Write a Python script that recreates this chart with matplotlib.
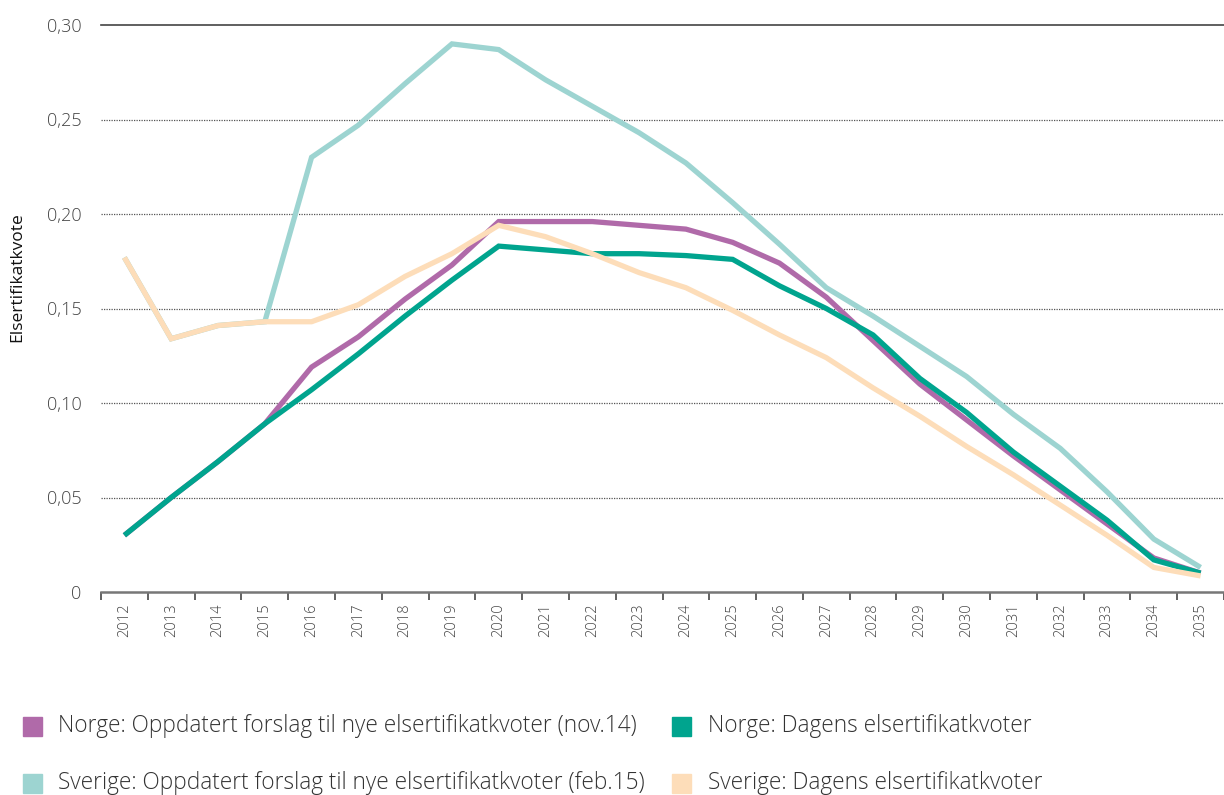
import matplotlib
matplotlib.use("Agg")
import matplotlib.pyplot as plt
from matplotlib.patches import Rectangle

plt.rcParams['font.family'] = ['Open Sans', 'DejaVu Sans']

years = [str(y) for y in range(2012, 2036)]

norge_forslag = [0.030, 0.050, 0.069, 0.089, 0.119, 0.135, 0.155, 0.173, 0.196, 0.196,
                 0.196, 0.194, 0.192, 0.185, 0.174, 0.156, 0.133, 0.110, 0.091, 0.072,
                 0.054, 0.036, 0.018, 0.010]
norge_dagens = [0.030, 0.050, 0.069, 0.089, 0.107, 0.126, 0.146, 0.165, 0.183, 0.181,
                0.179, 0.179, 0.178, 0.176, 0.162, 0.150, 0.136, 0.113, 0.095, 0.074,
                0.056, 0.038, 0.017, 0.010]
sverige_forslag = [0.177, 0.134, 0.141, 0.143, 0.230, 0.247, 0.269, 0.290, 0.287, 0.271,
                   0.257, 0.243, 0.227, 0.206, 0.184, 0.161, 0.146, 0.130, 0.114, 0.094,
                   0.076, 0.053, 0.028, 0.013]
sverige_dagens = [0.177, 0.134, 0.141, 0.143, 0.143, 0.152, 0.167, 0.179, 0.194, 0.188,
                  0.179, 0.169, 0.161, 0.149, 0.136, 0.124, 0.108, 0.093, 0.077, 0.062,
                  0.046, 0.030, 0.013, 0.0085]

labels = ["Norge: Oppdatert forslag til nye elsertifikatkvoter (nov.14)",
          "Norge: Dagens elsertifikatkvoter",
          "Sverige: Oppdatert forslag til nye elsertifikatkvoter (feb.15)",
          "Sverige: Dagens elsertifikatkvoter"]
colors = ["#B06AA9", "#00A48E", "#9DD4D1", "#FDDDB9"]
series = [norge_forslag, norge_dagens, sverige_forslag, sverige_dagens]

yticks = [0, 0.05, 0.10, 0.15, 0.20, 0.25, 0.30]
ytick_labels = ["0", "0,05", "0,10", "0,15", "0,20", "0,25", "0,30"]

W, H = 1224, 795
fig = plt.figure(figsize=(W / 100, H / 100), dpi=100)
ax = fig.add_axes([101 / W, 1 - 592 / H, (1224 - 101) / W, (592 - 25) / H])

x = list(range(len(years)))
for s, c in zip(series, colors):
    ax.plot(x, s, color=c, lw=3.8, solid_capstyle='butt', solid_joinstyle='miter', zorder=3)

ax.set_xlim(-0.5, 23.48)
ax.set_ylim(0, 0.30)

for v in yticks[1:-1]:
    ax.axhline(v, color="#555555", lw=0.9, ls=(0, (1, 1)), zorder=1)
ax.axhline(0.30, color="#444444", lw=1.2, zorder=1, clip_on=False)

for sp in ["left", "right", "top"]:
    ax.spines[sp].set_visible(False)
ax.spines["bottom"].set_color("#777777")
ax.spines["bottom"].set_linewidth(1.8)
ax.spines["bottom"].set_zorder(4)

ax.set_yticks(yticks)
ax.set_yticklabels(ytick_labels, fontweight='light')
ax.tick_params(axis='y', length=0, pad=14, labelsize=13, labelcolor="#444444")

ax.set_xticks(x)
ax.set_xticklabels(years, rotation=90, fontweight='light')
ax.tick_params(axis='x', which='major', length=0, pad=8, labelsize=10.5, labelcolor="#444444")
ax.set_xticks([i - 0.5 for i in range(len(years) + 1)], minor=True)
ax.tick_params(axis='x', which='minor', length=6, width=1.3, color="#555555")

ax.set_ylabel("Elsertifikatkvote", fontsize=12.5, color="#111111")
ax.yaxis.set_label_coords(-(101 - 25) / (1224 - 101), 0.556)

# legend
rows = [726, 783]
cols = [(23, 58), (672, 708)]
for i, (lab, c) in enumerate(zip(labels, colors)):
    r, col = divmod(i, 2)
    sx, tx = cols[col]
    yc = rows[r]
    fig.patches.append(Rectangle((sx / W, 1 - (yc + 9.5) / H), 19 / W, 19 / H,
                                 transform=fig.transFigure, color=c, figure=fig))
    fig.text(tx / W, 1 - yc / H, lab, fontsize=16.3, fontweight='light',
             color="#333333", va='center', ha='left')

fig.savefig("out.png", dpi=100)
